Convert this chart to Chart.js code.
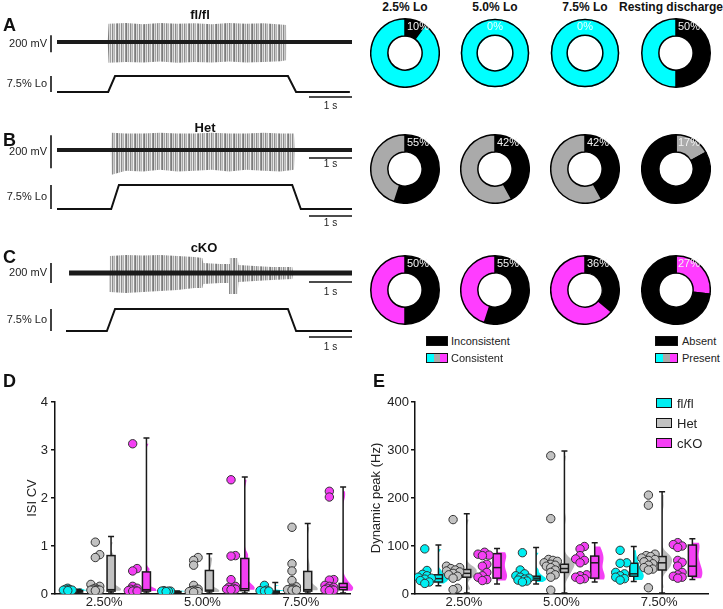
<!DOCTYPE html>
<html>
<head>
<meta charset="utf-8">
<title>Lo responses</title>
<script src="https://cdn.jsdelivr.net/npm/chart.js@4.4.1/dist/chart.umd.min.js"></script>
<style>
  body { margin: 0; background: #fff; }
  #fig { position: relative; width: 723px; height: 609px; overflow: hidden;
         font-family: 'Liberation Sans', Arial, sans-serif; color: #111; }
  #fig canvas { position: absolute; }
  .txt { position: absolute; white-space: nowrap; line-height: 1; }
  .c { transform: translate(-50%, -50%); }
  .l { transform: translateY(-50%); }
  .letter { font-size: 18px; font-weight: bold; }
  .title { font-size: 13px; font-weight: bold; }
  .ctitle { font-size: 12px; font-weight: bold; }
  .small { font-size: 11px; color: #222; }
  .mid { font-size: 13px; color: #222; }
  .sw { position: absolute; box-sizing: border-box; border: 1.5px solid #111; }
</style>
</head>
<body>
<div id="fig"></div>
<script>
// ---------- data: traces A-C (time in s, voltage in mV) ----------
const burstTimesA = [0, 1.18, 1.2, 1.6, 2.0, 2.4, 2.8, 3.2, 3.6, 4.0, 4.4, 4.8, 5.2, 5.33, 5.35, 6.86];
const burstUpperA = [0, 0, 215, 225, 210, 225, 215, 220, 210, 225, 215, 220, 205, 200, 0, 0];
const burstLowerA = [0, 0, -245, -235, -240, -230, -245, -235, -240, -230, -240, -235, -225, -215, 0, 0];

const burstTimesB = [0, 1.25, 1.27, 1.6, 2.0, 2.4, 2.8, 3.2, 3.6, 4.0, 4.4, 4.8, 5.2, 5.51, 5.53, 6.86];
const burstUpperB = [0, 0, 105, 100, 100, 105, 100, 100, 105, 100, 100, 105, 100, 100, 0, 0];
const burstLowerB = [0, 0, -150, -125, -130, -120, -130, -125, -120, -130, -120, -125, -130, -120, 0, 0];

const burstTimesC = [0.28, 1.21, 1.23, 1.6, 2.0, 2.4, 2.8, 3.2, 3.38, 3.4, 3.8, 4.0, 4.02, 4.2, 4.22, 4.6, 5.0, 5.47, 5.49, 6.86];
const burstUpperC = [0, 0, 170, 180, 175, 180, 170, 160, 150, 100, 90, 90, 150, 150, 80, 70, 60, 60, 0, 0];
const burstLowerC = [0, 0, -190, -200, -190, -180, -170, -150, -150, -110, -100, -100, -210, -210, -90, -80, -70, -60, 0, 0];

// stimulus (% Lo)
const stimTimesA = [0, 1.19, 1.35, 5.37, 5.56, 6.81];
const stimTimesB = [0, 1.26, 1.44, 5.47, 5.67, 6.86];
const stimTimesC = [0.21, 1.16, 1.35, 5.37, 5.56, 6.86];
const stimLevels = [0, 0, 7.5, 7.5, 0, 0];

// ---------- data: donuts ----------
const donutColumns = ['2.5% Lo', '5.0% Lo', '7.5% Lo', 'Resting discharge'];
const donutPctFlfl = [10, 0, 0, 50];
const donutPctHet = [55, 42, 42, 17];
const donutPctCko = [50, 55, 36, 27];

// ---------- data: D / E ----------
const categories = ['2.50%', '5.00%', '7.50%'];
const genotypes = ['fl/fl', 'Het', 'cKO'];

const isiFlfl = [[0.12, 0.10, 0.09, 0.08, 0.08, 0.07], [0.07, 0.06, 0.06, 0.06, 0.05], [0.18, 0.08, 0.07, 0.06, 0.06]];
const isiHet = [[1.08, 0.82, 0.76, 0.20, 0.16, 0.12, 0.10, 0.09, 0.08, 0.08, 0.07],
                [0.76, 0.70, 0.60, 0.18, 0.10, 0.08, 0.07, 0.06, 0.05, 0.05, 0.04],
                [1.39, 0.63, 0.48, 0.28, 0.15, 0.12, 0.10, 0.10, 0.09, 0.08, 0.08]];
const isiCko = [[3.13, 0.53, 0.48, 0.16, 0.12, 0.10, 0.08, 0.07, 0.06, 0.06],
                [2.38, 0.80, 0.79, 0.30, 0.16, 0.14, 0.12, 0.10, 0.10, 0.09],
                [2.14, 2.02, 0.30, 0.29, 0.18, 0.16, 0.14, 0.12, 0.10, 0.09, 0.08, 0.07]];
// [min, q1, median, q3, max]
const isiBoxFlfl = [[0.02, 0.04, 0.06, 0.07, 0.10], [0.02, 0.03, 0.04, 0.05, 0.06], [0.01, 0.02, 0.04, 0.06, 0.24]];
const isiBoxHet = [[0.02, 0.06, 0.09, 0.80, 1.20], [0.02, 0.06, 0.08, 0.49, 0.84], [0.02, 0.06, 0.09, 0.47, 1.47]];
const isiBoxCko = [[0.02, 0.06, 0.09, 0.46, 3.25], [0.02, 0.07, 0.11, 0.74, 2.44], [0.02, 0.09, 0.14, 0.22, 2.23]];

const peakFlfl = [[94, 49, 41, 38, 35, 33, 31, 28, 25, 22], [86, 50, 42, 38, 35, 33, 31, 29, 27, 25], [91, 65, 64, 45, 42, 38, 35, 32, 29]];
const peakHet = [[155, 58, 55, 53, 50, 48, 46, 43, 40, 37, 33, 12, 9],
                 [288, 157, 72, 70, 68, 65, 62, 60, 58, 55, 50, 45, 40, 35, 8],
                 [206, 185, 83, 80, 78, 75, 72, 70, 67, 63, 60, 55, 52, 50, 13]];
const peakCko = [[87, 83, 81, 80, 62, 58, 45, 38, 35, 30, 28],
                 [99, 94, 80, 73, 70, 65, 40, 38, 35, 32, 30],
                 [107, 103, 100, 97, 70, 66, 58, 45, 40, 37, 35, 33]];
const peakBoxFlfl = [[17, 25, 32, 40, 102], [21, 29, 33, 37, 97], [26, 37, 42, 64, 99]];
const peakBoxHet = [[2, 35, 43, 51, 167], [2, 45, 53, 62, 298], [2, 50, 65, 78, 213]];
const peakBoxCko = [[21, 33, 55, 84, 95], [25, 33, 65, 79, 107], [30, 37, 58, 102, 115]];

// ---------- styles ----------
const FONT = "'Liberation Sans', Arial, sans-serif";
Chart.defaults.font.family = FONT;
Chart.defaults.color = '#222';
const CYAN = '#00eef2', GRAY = '#c2c2c2', MAGENTA = '#f43ff4';
const VIOLIN = ['#00eef2', '#b9b9b9', '#f43ff4'];
const DONUT_COL = ['#00ffff', '#aaaaaa', '#ff3dff'];

const fig = document.getElementById('fig');

function addText(text, x, y, cls) {
  const d = document.createElement('div');
  d.className = 'txt ' + cls;
  d.textContent = text;
  d.style.left = x + 'px';
  d.style.top = y + 'px';
  fig.appendChild(d);
}

function addCanvas(left, top, w, h) {
  const cv = document.createElement('canvas');
  cv.width = w; cv.height = h;
  cv.style.left = left + 'px';
  cv.style.top = top + 'px';
  fig.appendChild(cv);
  return cv;
}

function addSwatch(left, top, w, h, bg) {
  const d = document.createElement('div');
  d.className = 'sw';
  d.style.left = left + 'px'; d.style.top = top + 'px';
  d.style.width = w + 'px'; d.style.height = h + 'px';
  d.style.background = bg;
  fig.appendChild(d);
}

// vertical stripes look like dense spikes
function stripes(ctx) {
  const shades = ['#7a7a7a', '#d6d6d6', '#a3a3a3', '#e8e8e8', '#8c8c8c', '#c9c9c9', '#b4b4b4', '#f0f0f0', '#959595'];
  const c = document.createElement('canvas');
  c.width = shades.length; c.height = 1;
  const g = c.getContext('2d');
  shades.forEach((s, i) => { g.fillStyle = s; g.fillRect(i, 0, 1, 1); });
  return ctx.createPattern(c, 'repeat');
}

// scale bars + labels for trace charts
function traceDecor(o) {
  return {
    id: 'traceDecor',
    afterDraw(chart) {
      const { ctx, scales: { x, y }, chartArea } = chart;
      ctx.save();
      ctx.strokeStyle = '#111';
      ctx.lineWidth = 1.6;
      const bx = chartArea.left - 6;
      const y1 = y.getPixelForValue(o.barFrom), y2 = y.getPixelForValue(o.barTo);
      ctx.beginPath(); ctx.moveTo(bx, y1); ctx.lineTo(bx, y2); ctx.stroke();
      ctx.fillStyle = '#222';
      ctx.font = '11px ' + FONT;
      ctx.textAlign = 'right';
      ctx.textBaseline = 'middle';
      ctx.fillText(o.label, bx - 4, (y1 + y2) / 2);
      if (o.timeDy !== undefined) {
        const yb = y.getPixelForValue(0) + o.timeDy;
        const xa = x.getPixelForValue(x.max - 1), xb = x.getPixelForValue(x.max);
        ctx.beginPath(); ctx.moveTo(xa, yb); ctx.lineTo(xb, yb); ctx.stroke();
        ctx.font = '10px ' + FONT;
        ctx.textAlign = 'center';
        ctx.fillText('1 s', (xa + xb) / 2, yb + o.textDy);
      }
      ctx.restore();
    }
  };
}

function traceChart(o) {
  const ppu = (o.yZero - o.yRef) / o.vRef;
  const areaTop = o.yZero - o.max * ppu, areaBottom = o.yZero - o.min * ppu;
  const top = Math.floor(areaTop) - 4;
  const height = Math.ceil(areaBottom + o.extra) - top;
  const cv = addCanvas(0, top, 360, height);
  const ctx = cv.getContext('2d');
  const none = 'rgba(0,0,0,0)';
  const datasets = [];
  if (o.upper) {
    datasets.push({ data: o.times.map((t, i) => ({ x: t, y: o.lower[i] })), borderColor: none, pointRadius: 0, fill: false, order: 1 });
    datasets.push({ data: o.times.map((t, i) => ({ x: t, y: o.upper[i] })), borderColor: none, pointRadius: 0,
                    fill: '-1', backgroundColor: stripes(ctx), order: 1 });
    datasets.push({ data: [{ x: o.times[0], y: 0 }, { x: o.times[o.times.length - 1], y: 0 }],
                    borderColor: '#1b1b1b', borderWidth: o.noise, pointRadius: 0, fill: false, order: 0 });
  } else {
    datasets.push({ data: o.times.map((t, i) => ({ x: t, y: o.levels[i] })),
                    borderColor: '#111', borderWidth: 2, pointRadius: 0, fill: false });
  }
  new Chart(cv, {
    type: 'line',
    data: { datasets },
    options: {
      responsive: false, animation: false, events: [],
      layout: { padding: { left: 57, right: 8, top: areaTop - top, bottom: top + height - areaBottom } },
      scales: {
        x: { type: 'linear', display: false, min: 0, max: 6.86 },
        y: { display: false, min: o.min, max: o.max }
      },
      plugins: { legend: { display: false }, tooltip: { enabled: false } }
    },
    plugins: [traceDecor(o.decor)]
  });
}

// ---------- panels A-C ----------
traceChart({ times: burstTimesA, upper: burstUpperA, lower: burstLowerA, yZero: 42, yRef: 25, vRef: 200, noise: 4,
             min: -270, max: 270, extra: 2, decor: { barFrom: -120, barTo: 80, label: '200 mV' } });
traceChart({ times: stimTimesA, levels: stimLevels, yZero: 92, yRef: 76, vRef: 7.5, min: -1.5, max: 9, extra: 18,
             decor: { barFrom: 0, barTo: 7.5, label: '7.5% Lo', timeDy: 5, textDy: 9 } });
traceChart({ times: burstTimesB, upper: burstUpperB, lower: burstLowerB, yZero: 150, yRef: 117, vRef: 200, noise: 4,
             min: -160, max: 160, extra: 4, decor: { barFrom: -110, barTo: 90, label: '200 mV', timeDy: 8, textDy: 6 } });
traceChart({ times: stimTimesB, levels: stimLevels, yZero: 209, yRef: 185, vRef: 7.5, min: -1.5, max: 9, extra: 16,
             decor: { barFrom: 0, barTo: 7.5, label: '7.5% Lo', timeDy: 7, textDy: 7 } });
traceChart({ times: burstTimesC, upper: burstUpperC, lower: burstLowerC, yZero: 273, yRef: 253, vRef: 200, noise: 5,
             min: -230, max: 230, extra: 4, decor: { barFrom: -100, barTo: 100, label: '200 mV', timeDy: 9, textDy: 10 } });
traceChart({ times: stimTimesC, levels: stimLevels, yZero: 331, yRef: 309, vRef: 7.5, min: -1.5, max: 9, extra: 20,
             decor: { barFrom: 0, barTo: 7.5, label: '7.5% Lo', timeDy: 6, textDy: 10 } });

addText('A', 3, 25, 'l letter');
addText('B', 3, 140, 'l letter');
addText('C', 3, 257, 'l letter');
addText('fl/fl', 200, 14, 'c title');
addText('Het', 205, 127, 'c title');
addText('cKO', 204, 247, 'c title');

// ---------- donuts ----------
const pctLabel = pct => ({
  id: 'pctLabel',
  afterDraw(chart) {
    const arc = chart.getDatasetMeta(0).data[0];
    const { x, y, outerRadius, innerRadius } = arc.getProps(['x', 'y', 'outerRadius', 'innerRadius'], true);
    const ctx = chart.ctx;
    ctx.save();
    if (pct === 0) {
      // full ring: outline the two circles only
      ctx.strokeStyle = '#000';
      ctx.lineWidth = 1.5;
      ctx.beginPath(); ctx.arc(x, y, outerRadius - 0.75, 0, Math.PI * 2); ctx.stroke();
      ctx.beginPath(); ctx.arc(x, y, innerRadius + 0.75, 0, Math.PI * 2); ctx.stroke();
    }
    ctx.font = '11px ' + FONT;
    ctx.fillStyle = pct === 0 ? '#e6ffff' : '#f2f2f2';
    ctx.textBaseline = 'middle';
    ctx.textAlign = pct === 0 ? 'center' : 'left';
    ctx.fillText(pct + '%', pct === 0 ? x : x + 2, y - (outerRadius + innerRadius) / 2);
    ctx.restore();
  }
});

function donut(cx, cy, pct, first, second) {
  const cv = addCanvas(cx - 35, cy - 35, 70, 70);
  const full = pct === 0;
  new Chart(cv, {
    type: 'doughnut',
    data: { datasets: [{ data: full ? [100] : [pct, 100 - pct], backgroundColor: full ? [second] : [first, second],
                         borderColor: '#000', borderWidth: full ? 0 : 1.5 }] },
    options: { responsive: false, animation: false, events: [], cutout: '50%',
               layout: { padding: full ? 0.75 : 0 },
               plugins: { legend: { display: false }, tooltip: { enabled: false } } },
    plugins: [pctLabel(pct)]
  });
}

const donutX = [405, 495, 585, 676];
const donutY = [53, 169, 290];
[donutPctFlfl, donutPctHet, donutPctCko].forEach((row, ri) => {
  row.forEach((pct, ci) => {
    const col = DONUT_COL[ri];
    const restingColoredFirst = ci === 3 && ri > 0;
    if (restingColoredFirst) donut(donutX[ci], donutY[ri], pct, col, '#000');
    else donut(donutX[ci], donutY[ri], pct, '#000', col);
  });
});
donutColumns.forEach((t, i) => addText(t, i === 3 ? 671 : donutX[i], 7, 'c ctitle'));

addSwatch(426, 336, 22, 10, '#000');
addText('Inconsistent', 451, 341, 'l small');
addSwatch(426, 353, 22, 10, 'linear-gradient(90deg,#00ffff 0 33%,#aaaaaa 33% 66%,#ff3dff 66%)');
addText('Consistent', 451, 358, 'l small');
addSwatch(655, 336, 23, 10, '#000');
addText('Absent', 682, 341, 'l small');
addSwatch(655, 353, 23, 10, 'linear-gradient(90deg,#00ffff 0 33%,#aaaaaa 33% 66%,#ff3dff 66%)');
addText('Present', 682, 358, 'l small');

// ---------- D / E ----------
function swarm(values, center, yPx, xPx, tries) {
  const placed = [];
  const xs = [];
  const order = values.map((v, i) => i).sort((a, b) => values[a] - values[b]);
  order.forEach(i => {
    const py = values[i] * yPx;
    let best = 0, bestGap = -1;
    for (let k = 0; k < tries; k++) {
      const off = (k % 2 ? 1 : -1) * Math.ceil(k / 2) * 2.2;
      const gap = Math.min(Infinity, ...placed.map(p => Math.hypot(p.x - off, p.y - py)));
      if (gap >= 4.5) { best = off; bestGap = gap; break; }
      if (gap > bestGap) { best = off; bestGap = gap; }
    }
    placed.push({ x: best, y: py });
    xs[i] = center + best / xPx;
  });
  return xs;
}

function kde(vals, n) {
  const m = vals.length;
  const mean = vals.reduce((a, b) => a + b, 0) / m;
  const sd = Math.sqrt(vals.reduce((a, b) => a + (b - mean) ** 2, 0) / (m - 1));
  const s = [...vals].sort((a, b) => a - b);
  const iqr = s[Math.floor(0.75 * (m - 1))] - s[Math.floor(0.25 * (m - 1))];
  const h = 0.9 * Math.min(sd, iqr / 1.34 || sd) * Math.pow(m, -0.2);
  const lo = s[0], hi = s[m - 1];
  const grid = [], dens = [];
  for (let k = 0; k <= n; k++) {
    const v = lo + (hi - lo) * k / n;
    grid.push(v);
    dens.push(vals.reduce((a, b) => a + Math.exp(-0.5 * ((v - b) / h) ** 2), 0));
  }
  return { grid, dens };
}

function boxPlugin(groups, boxOffsets) {
  return {
    id: 'boxes',
    beforeDatasetsDraw(chart) {
      const { ctx, scales: { x, y } } = chart;
      const py = v => y.getPixelForValue(v);
      ctx.save();
      groups.forEach((g, gi) => {
        g.box.forEach((s, ci) => {
          const cx = x.getPixelForValue(ci + 0.5 + boxOffsets[gi]);
          // half violin
          const { grid, dens } = kde(g.pts[ci], 60);
          const dmax = Math.max(...dens);
          ctx.fillStyle = VIOLIN[gi];
          ctx.beginPath();
          ctx.moveTo(cx, py(grid[0]));
          grid.forEach((v, k) => ctx.lineTo(cx + dens[k] / dmax * 10, py(v)));
          ctx.lineTo(cx, py(grid[grid.length - 1]));
          ctx.closePath();
          ctx.fill();
          // whiskers
          const [mn, q1, md, q3, mx] = s;
          ctx.strokeStyle = '#1a1a1a';
          ctx.lineWidth = 1.5;
          ctx.beginPath();
          ctx.moveTo(cx, py(mn)); ctx.lineTo(cx, py(q1));
          ctx.moveTo(cx, py(q3)); ctx.lineTo(cx, py(mx));
          ctx.moveTo(cx - 3, py(mx)); ctx.lineTo(cx + 3, py(mx));
          ctx.moveTo(cx - 3, py(mn)); ctx.lineTo(cx + 3, py(mn));
          ctx.stroke();
          // box
          ctx.fillStyle = g.color;
          ctx.fillRect(cx - 4, py(q3), 8, py(q1) - py(q3));
          ctx.strokeRect(cx - 4, py(q3), 8, py(q1) - py(q3));
          ctx.beginPath();
          ctx.moveTo(cx - 4, py(md)); ctx.lineTo(cx + 4, py(md));
          ctx.stroke();
        });
      });
      ctx.restore();
    }
  };
}

function statPanel(o) {
  const cv = addCanvas(o.left, 380, o.width, 229);
  const colors = [CYAN, GRAY, MAGENTA];
  const datasets = o.groups.map((g, gi) => {
    const data = [];
    g.pts.forEach((vals, ci) => {
      const xs = swarm(vals, ci + 0.5 + o.dotOffsets[gi], o.yPx, o.xPx, o.tries);
      vals.forEach((v, k) => data.push({ x: xs[k], y: v }));
    });
    return { label: genotypes[gi], data, backgroundColor: colors[gi], borderColor: '#333',
             borderWidth: 1, pointRadius: 4.2 };
  });
  new Chart(cv, {
    type: 'scatter',
    data: { datasets },
    options: {
      responsive: false, animation: false, events: [],
      layout: { padding: { top: 22, right: o.padRight, left: 0, bottom: 0 } },
      scales: {
        x: {
          type: 'linear', min: 0, max: 3,
          afterBuildTicks: s => { s.ticks = categories.map((c, i) => ({ value: i + 0.5 })); },
          afterFit: s => { s.height = 15; },
          ticks: { callback: v => categories[Math.floor(v)], autoSkip: false, maxRotation: 0, padding: 1,
                   font: { size: 13 }, color: '#222' },
          grid: { display: false, drawTicks: false },
          border: { display: true, color: '#111', width: 1.5 }
        },
        y: {
          min: 0, max: o.yMax,
          afterFit: s => { s.width = 55; },
          ticks: { stepSize: o.yStep, padding: o.tickPad, font: { size: 13 }, color: '#222' },
          grid: { drawOnChartArea: false, drawTicks: true, tickLength: 4, color: '#111', lineWidth: 1.5 },
          border: { color: '#111', width: 1.5 },
          title: { display: true, text: o.yTitle, font: { size: 13 }, color: '#222', padding: { top: o.titlePad, bottom: 0 } }
        }
      },
      plugins: { legend: { display: false }, tooltip: { enabled: false } }
    },
    plugins: [boxPlugin(o.groups, o.boxOffsets)]
  });
}

statPanel({
  left: 0, width: 360, padRight: 10, yMax: 4, yStep: 1, tickPad: 3, titlePad: 25, yTitle: 'ISI CV',
  yPx: 48, xPx: 98, tries: 5,
  dotOffsets: [-0.37, -0.09, 0.29], boxOffsets: [-0.26, 0.07, 0.43],
  groups: [
    { pts: isiFlfl, box: isiBoxFlfl, color: CYAN },
    { pts: isiHet, box: isiBoxHet, color: GRAY },
    { pts: isiCko, box: isiBoxCko, color: MAGENTA }
  ]
});

statPanel({
  left: 360, width: 363, padRight: 15, yMax: 400, yStep: 100, tickPad: 2, titlePad: 9, yTitle: 'Dynamic peak (Hz)',
  yPx: 0.48, xPx: 97.7, tries: 7,
  dotOffsets: [-0.40, -0.11, 0.19], boxOffsets: [-0.26, 0.03, 0.34],
  groups: [
    { pts: peakFlfl, box: peakBoxFlfl, color: CYAN },
    { pts: peakHet, box: peakBoxHet, color: GRAY },
    { pts: peakCko, box: peakBoxCko, color: MAGENTA }
  ]
});

addText('D', 3, 381, 'l letter');
addText('E', 373, 381, 'l letter');

[CYAN, GRAY, MAGENTA].forEach((c, i) => {
  addSwatch(656, 398 + i * 20, 16, 10, c);
  addText(genotypes[i], 677, 403 + i * 20, 'l mid');
});
</script>
</body>
</html>
